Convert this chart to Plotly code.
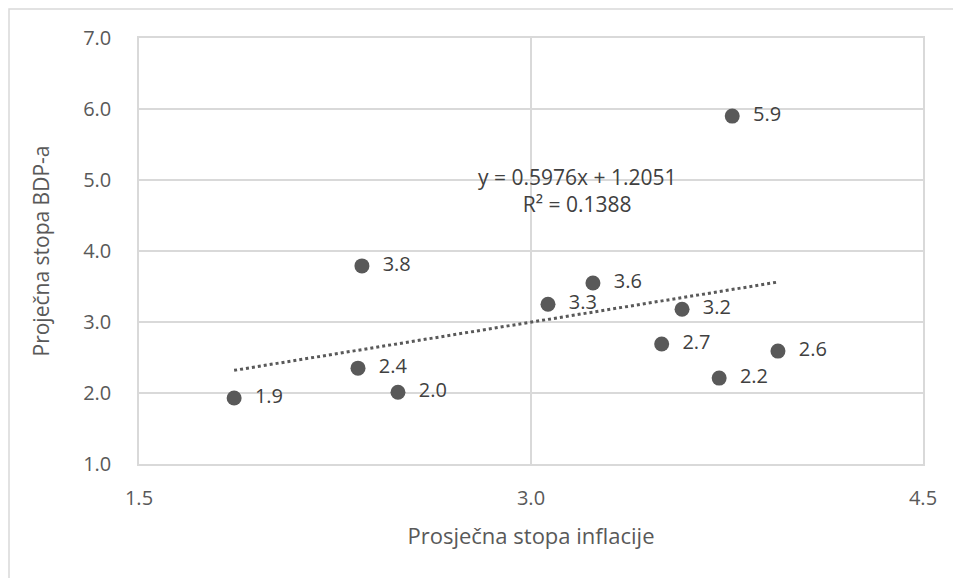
import plotly.graph_objects as go

inflation = [1.864, 2.338, 2.353, 2.491, 3.065, 3.237, 3.50, 3.578, 3.72, 3.77, 3.945]
gdp = [1.93, 2.35, 3.79, 2.01, 3.25, 3.55, 2.69, 3.18, 2.21, 5.90, 2.59]
labels = ["1.9", "2.4", "3.8", "2.0", "3.3", "3.6", "2.7", "3.2", "2.2", "5.9", "2.6"]
slope = 0.5976
intercept = 1.2051
r2 = 0.1388
x_ticks = [1.5, 3.0, 4.5]
y_ticks = [1.0, 2.0, 3.0, 4.0, 5.0, 6.0, 7.0]

FONT = "Open Sans"
W, H = 953, 570
L, R, T, B = 131, 38, 30, 114
PW, PH = W - L - R, H - T - B

fig = go.Figure()

tx = [min(inflation), max(inflation)]
ty = [slope * v + intercept for v in tx]
fig.add_trace(go.Scatter(x=tx, y=ty, mode="lines",
                         line=dict(color="#595959", width=3, dash="dot"),
                         hoverinfo="skip", showlegend=False))

fig.add_trace(go.Scatter(x=inflation, y=gdp, mode="markers+text",
                         text=["  " + t for t in labels], textposition="middle right",
                         textfont=dict(family=FONT, size=20, color="#404040"),
                         marker=dict(color="#595959", size=15),
                         showlegend=False))

fig.add_annotation(x=3.176, y=4.85, xref="x", yref="y",
                   text=f"y = {slope}x + {intercept}<br>R² = {r2}",
                   showarrow=False, align="center",
                   font=dict(family=FONT, size=21, color="#404040"))

fig.add_shape(type="rect", xref="paper", yref="paper",
              x0=-(L - 1) / PW, x1=(PW + R + 20) / PW, y0=-(B + 20) / PH, y1=1 + (T - 1) / PH,
              line=dict(color="#d9d9d9", width=1.5), layer="below")

fig.update_layout(
    width=W, height=H,
    margin=dict(l=L, r=R, t=T, b=B),
    paper_bgcolor="white", plot_bgcolor="white",
    font=dict(family=FONT, color="#595959", size=20),
    xaxis=dict(range=[1.5, 4.5], tickvals=x_ticks, ticktext=[f"{v:.1f}" for v in x_ticks],
               showgrid=True, gridcolor="#d9d9d9", gridwidth=1.5,
               showline=True, linecolor="#d9d9d9", linewidth=1.5, mirror=True,
               zeroline=False, ticks="", ticklabelstandoff=15,
               title=dict(text="Prosječna stopa inflacije", font=dict(size=22, color="#595959"), standoff=19)),
    yaxis=dict(range=[1.0, 7.0], tickvals=y_ticks, ticktext=[f"{v:.1f}" for v in y_ticks],
               showgrid=True, gridcolor="#d9d9d9", gridwidth=1.5,
               showline=True, linecolor="#d9d9d9", linewidth=1.5, mirror=True,
               zeroline=False, ticks="", ticklabelstandoff=22,
               title=dict(text="Proječna stopa BDP-a", font=dict(size=21, color="#595959"), standoff=28)),
)
fig.write_html("out.html")
